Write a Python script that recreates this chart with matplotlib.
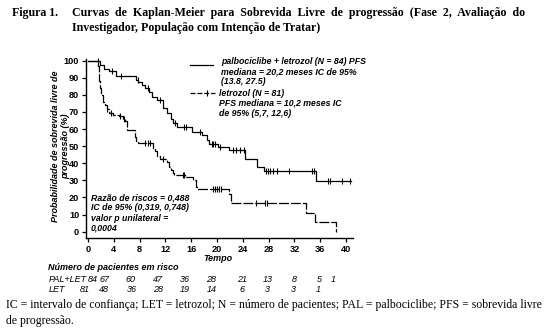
import numpy as np
import matplotlib
matplotlib.use("Agg")
import matplotlib.pyplot as plt

# ---------------- data ----------------
pal_t = [0, 1.8, 2.4, 3.3, 4.3, 7.4, 7.8, 8.3, 8.8, 9.5, 9.9, 10.7, 11.6, 12.3, 12.8, 13.1,
         13.75, 16.1, 17.6, 18.4, 18.8, 20.2, 21.9, 24.3, 26.2, 27.3, 35.4, 40.8]
pal_s = [100, 97.5, 95, 94, 91, 89, 87.5, 85.5, 84, 81.5, 79, 77, 72.5, 69.5, 66, 63.5,
         61, 58.5, 56.5, 53.5, 51.5, 49.5, 47.5, 42.5, 38, 35.5, 29.5, 29.5]
pal_cens = [1.6, 3.7, 5.1, 7.7, 9.35, 11.2, 13.5, 14.9, 15.2, 17.4, 19.2, 19.4, 19.7, 20.5,
            22.5, 23.0, 23.5, 24.1, 27.55, 27.85, 28.2, 28.6, 29.35, 31.2, 34.7, 35.0,
            37.2, 37.5, 39.3, 40.6]

let_t = [0, 1.6, 1.7, 1.8, 2.0, 2.3, 2.6, 2.9, 3.2, 3.8, 4.8, 5.4, 5.8, 6.0, 7.2, 7.5, 7.7,
         10.1, 10.4, 10.7, 11.2, 12.3, 12.6, 12.8, 13.1, 13.4, 15.0, 16.3, 16.7, 17.0,
         21.9, 22.2, 33.8, 35.2, 38.5]
let_s = [100, 97, 88, 84, 80, 76, 74, 72, 69.5, 68, 67.5, 66, 64.5, 59.5, 55.5, 53, 52,
         49, 47, 44, 42.5, 41, 38, 36, 34.5, 33, 32, 30, 26, 25,
         22, 16.6, 11, 5.5, 0]
let_cens = [3.0, 3.5, 4.9, 5.5, 8.8, 9.3, 9.6, 11.6, 14.7, 14.9, 19.4, 19.7, 20.0, 20.3,
            20.6, 26.1, 27.5, 27.8]

risk_times = [0, 4, 8, 12, 16, 20, 24, 28, 32, 36, 40]
risk_pal = [84, 67, 60, 47, 36, 28, 21, 13, 8, 5, 1]
risk_let = [81, 48, 36, 28, 19, 14, 6, 3, 3, 1]

x_ticks = [0, 4, 8, 12, 16, 20, 24, 28, 32, 36, 40]
y_ticks = [0, 10, 20, 30, 40, 50, 60, 70, 80, 90, 100]

# ---------------- figure ----------------
W, H = 551, 335
fig = plt.figure(figsize=(W / 100, H / 100), dpi=100)
fig.patch.set_facecolor("white")

def fx(px):
    return px / W

def fy(py):
    return 1 - py / H

SANS = "Liberation Sans"
SERIF = "Liberation Serif"

ax = fig.add_axes([0.1563, 0.2896, 0.4835, 0.5394])
ax.set_xlim(-0.3, 41)
ax.set_ylim(-3.7, 102)
for s in ["top", "right"]:
    ax.spines[s].set_visible(False)
for s in ["left", "bottom"]:
    ax.spines[s].set_linewidth(1.0)
ax.spines["left"].set_bounds(-3.7, 101)
ax.spines["bottom"].set_bounds(-0.3, 41)

def step_val(ts, ss, x):
    i = np.searchsorted(ts, x, side="right") - 1
    return ss[i]

ax.step(pal_t, pal_s, where="post", color="black", lw=0.9)
ax.plot(pal_cens, [step_val(pal_t, pal_s, c) for c in pal_cens], "|", color="black",
        ms=5, mew=0.8)

ax.step(let_t, let_s, where="post", color="black", lw=0.9, dashes=(8, 1.5))
ax.plot(let_cens, [step_val(let_t, let_s, c) for c in let_cens], "|", color="black",
        ms=5, mew=0.8)

ax.set_xticks(x_ticks)
ax.set_yticks(y_ticks)
ax.tick_params(direction="out", length=3, width=0.9, pad=2)
for lab in ax.get_xticklabels() + ax.get_yticklabels():
    lab.set_fontfamily(SANS)
    lab.set_fontweight("bold")
    lab.set_fontsize(6.6)

# legend (drawn manually)
ax_leg = dict(fontsize=6.3, fontweight="bold", fontstyle="italic", family=SANS,
              transform=fig.transFigure, va="center", ha="left")
fig.lines.append(plt.Line2D([fx(190), fx(213)], [fy(65), fy(65)], color="black", lw=0.9,
                            transform=fig.transFigure))
fig.text(fx(221), fy(61.5), "palbociclibe + letrozol (N = 84) PFS", **ax_leg)
fig.text(fx(221), fy(71.5), "mediana = 20,2 meses IC de 95%", **ax_leg)
fig.text(fx(221), fy(81.5), "(13.8, 27.5)", **ax_leg)
fig.lines.append(plt.Line2D([fx(190), fx(215)], [fy(92.7), fy(92.7)], color="black", lw=0.9,
                            dashes=(4, 1.5), transform=fig.transFigure))
fig.lines.append(plt.Line2D([fx(207)], [fy(92.7)], color="black", marker="|", ms=4, mew=0.8,
                            transform=fig.transFigure))
fig.text(fx(219), fy(93), "letrozol (N = 81)", **ax_leg)
fig.text(fx(219), fy(103), "PFS mediana = 10,2 meses IC", **ax_leg)
fig.text(fx(219), fy(113), "de 95% (5,7, 12,6)", **ax_leg)

# hazard ratio annotation
for i, line in enumerate(["Razão de riscos = 0,488", "IC de 95% (0,319, 0,748)",
                          "valor p unilateral =", "0,0004"]):
    fig.text(fx(91), fy(197.5 + 10.3 * i), line, **ax_leg)

# y label
ylab = dict(fontsize=6.5, fontweight="bold", fontstyle="italic", family=SANS,
            rotation=90, ha="center", va="center", transform=fig.transFigure)
fig.text(fx(56), fy(146), "Probabilidade de sobrevida livre de", **ylab)
fig.text(fx(65.5), fy(146), "progressão (%)", **ylab)

# x label
fig.text(fx(218), fy(258.5), "Tempo", fontsize=6.5, fontweight="bold", fontstyle="italic",
         family=SANS, ha="center", va="center")

# number at risk
risk_kw = dict(fontsize=6.5, fontstyle="italic", family=SANS, va="center",
               transform=fig.transFigure)
fig.text(fx(48), fy(268), "Número de pacientes em risco", fontweight="bold", ha="left",
         **risk_kw)
fig.text(fx(49), fy(279), "PAL+LET", ha="left", **risk_kw)
fig.text(fx(49), fy(290), "LET", ha="left", **risk_kw)
pal_px = [93, 105, 131, 158, 185, 211, 242, 268, 294, 319, 333]
let_px = [85, 104, 132, 158, 185, 212, 242, 267, 293, 318]
for v, p in zip(risk_pal, pal_px):
    fig.text(fx(p), fy(279), str(v), ha="center", **risk_kw)
for v, p in zip(risk_let, let_px):
    fig.text(fx(p), fy(290), str(v), ha="center", **risk_kw)

# title
tkw = dict(fontsize=8.6, fontweight="bold", family=SERIF, va="center", ha="left")
fig.text(fx(12), fy(13), "Figura 1.", **tkw)
fig.text(fx(72), fy(13), "Curvas  de  Kaplan-Meier  para  Sobrevida  Livre  de  progressão  "
         "(Fase  2,  Avaliação  do", **tkw)
fig.text(fx(72), fy(28.5), "Investigador, População com Intenção de Tratar)", **tkw)

# footnote
fkw = dict(fontsize=8.45, family=SERIF, va="center", ha="left")
fig.text(fx(6), fy(305), "IC = intervalo de confiança; LET = letrozol; N = número de pacientes; "
         "PAL = palbociclibe; PFS = sobrevida livre", **fkw)
fig.text(fx(6), fy(321), "de progressão.", **fkw)

fig.savefig("out.png", dpi=100, facecolor="white")
